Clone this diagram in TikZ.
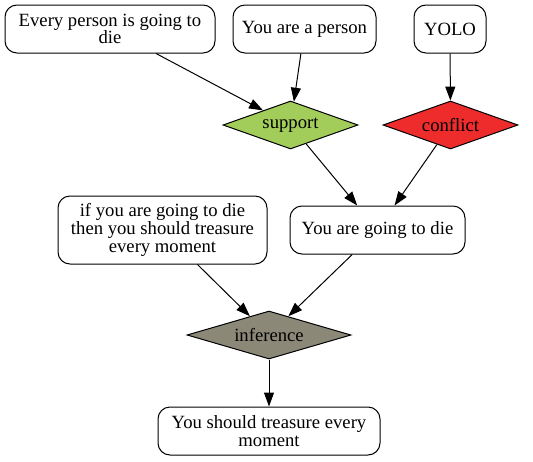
\documentclass[tikz,border=0pt]{standalone}
\usepackage{fontspec}
\setmainfont{Liberation Serif}
\newfontfamily\gvfont{Liberation Serif}
\usetikzlibrary{shapes.geometric,arrows.meta}
\definecolor{supportgreen}{HTML}{A2CD5A}
\definecolor{conflictred}{HTML}{EE2C2C}
\definecolor{inferencegray}{HTML}{8B8878}
\begin{document}
\begin{tikzpicture}[x=1pt,y=-1pt,
  box/.style={draw, rounded corners=12pt, line width=1pt, align=center, inner sep=0pt,
    minimum height=48pt, font=\gvfont\fontsize{18.67}{19}\selectfont, fill=white},
  dia/.style={draw, diamond, aspect=2.8, line width=1pt, inner sep=0pt, minimum width=135pt,
    minimum height=48pt, font=\gvfont\fontsize{18.67}{19}\selectfont},
  edge/.style={-{Triangle[length=14pt,width=10pt]}, line width=1pt}]
\useasboundingbox (0,0) rectangle (533,461);
\node[box, minimum width=210pt] (a) at (110,29) {Every person is going to\\[-2pt]die};
\node[box, minimum width=143pt] (b) at (304.5,29) {You are a person};
\node[box, minimum width=72pt] (c) at (450,29) {YOLO};
\node[dia, fill=supportgreen] (s) at (290.5,125) {support};
\node[dia, fill=conflictred] (k) at (450.5,125) {conflict};
\node[box, minimum width=175pt] (d) at (377.5,230) {You are going to die};
\node[box, minimum width=209pt, minimum height=68pt] (e) at (162.5,230) {if you are going to die\\[-1pt]then you should treasure\\[-1pt]every moment};
\node[dia, fill=inferencegray, minimum width=164pt] (i) at (269,335) {inference};
\node[box, minimum width=222pt] (f) at (269,431) {You should treasure every\\[-1pt]moment};
\draw[edge] (a) -- (s);
\draw[edge] (b) -- (s);
\draw[edge] (c) -- (k);
\draw[edge] (s) -- (d);
\draw[edge] (k) -- (d);
\draw[edge] (e) -- (i);
\draw[edge] (d) -- (i);
\draw[edge] (i) -- (f);
\end{tikzpicture}
\end{document}
